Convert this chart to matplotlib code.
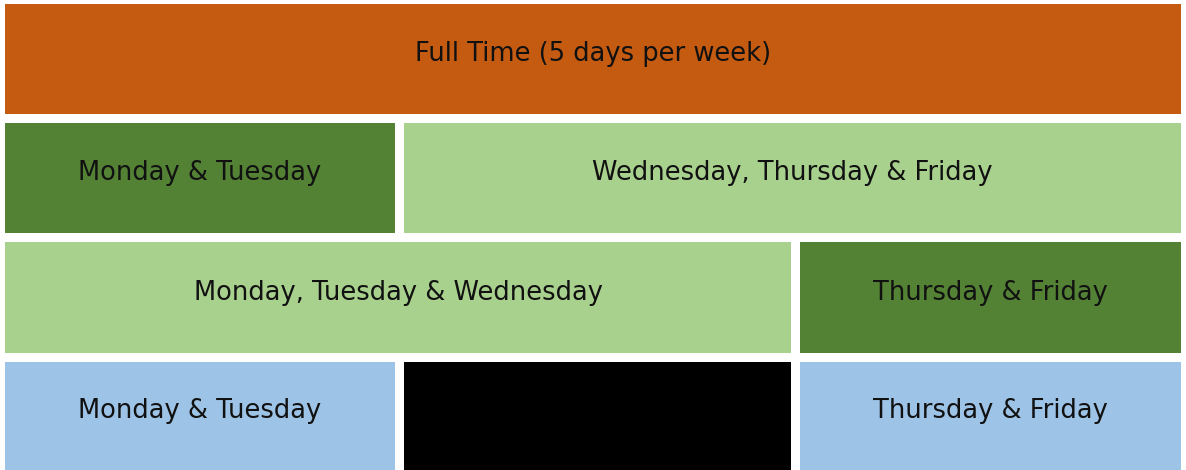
import matplotlib
matplotlib.use("Agg")
import matplotlib.pyplot as plt
from matplotlib.patches import Rectangle

# schedule options, one list per row (grid has 3 columns)
row_labels = [
  ["Full Time (5 days per week)"],
  ["Monday & Tuesday", "Wednesday, Thursday & Friday"],
  ["Monday, Tuesday & Wednesday", "Thursday & Friday"],
  ["Monday & Tuesday", "", "Thursday & Friday"],
]
row_spans = [
  [(0, 3)],
  [(0, 1), (1, 3)],
  [(0, 2), (2, 3)],
  [(0, 1), (1, 2), (2, 3)],
]
row_colors = [
  ["#C55A11"],
  ["#548235", "#A9D18E"],
  ["#A9D18E", "#548235"],
  ["#9DC3E6", "#000000", "#9DC3E6"],
]

# pixel layout of the grid
col_left = [5, 404, 800]
col_right = [395, 791, 1181]
row_top = [4, 123, 242, 362]
row_bottom = [114, 233, 353, 470]

fig = plt.figure(figsize=(11.86, 4.70), dpi=100)
ax = fig.add_axes([0, 0, 1, 1])
ax.set_xlim(0, 1186)
ax.set_ylim(470, 0)
ax.axis("off")

for r in range(len(row_labels)):
  y0, y1 = row_top[r], row_bottom[r]
  for label, (c0, c1), color in zip(row_labels[r], row_spans[r], row_colors[r]):
    x0 = col_left[c0]
    x1 = col_right[c1 - 1]
    ax.add_patch(Rectangle((x0, y0), x1 - x0, y1 - y0, facecolor=color, edgecolor="none"))
    if label:
      # text sits a little above the box middle
      ax.text((x0 + x1) / 2, (y0 + y1) / 2 - 5, label, ha="center", va="center",
              fontsize=18.5, color="#111111", family="DejaVu Sans")

fig.savefig("out.png", dpi=100)
